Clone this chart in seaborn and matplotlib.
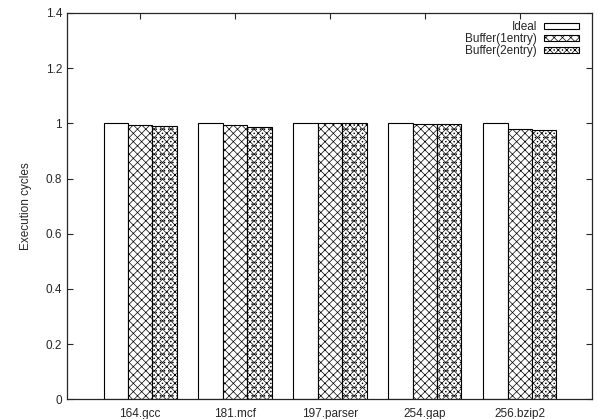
import pandas as pd
import numpy as np
import matplotlib
matplotlib.use("Agg")
import matplotlib.pyplot as plt
import seaborn as sns

benchmarks = ["164.gcc", "181.mcf", "197.parser", "254.gap", "256.bzip2"]
ideal = [1.0, 1.0, 1.0, 1.0, 1.0]
buffer_1entry = [0.995, 0.993, 1.002, 0.998, 0.978]
buffer_2entry = [0.990, 0.988, 1.000, 0.998, 0.975]
series = ["Ideal", "Buffer(1entry)", "Buffer(2entry)"]
hatches = ["", "xxxx", "xxxx...."]

sns.set_style("ticks")
plt.rcParams["font.family"] = ["Liberation Sans", "DejaVu Sans"]
plt.rcParams["hatch.linewidth"] = 0.5

df = pd.DataFrame({
    "bench": benchmarks * 3,
    "series": [s for s in series for _ in benchmarks],
    "value": ideal + buffer_1entry + buffer_2entry,
})

fig = plt.figure(figsize=(5.98, 4.19), dpi=100)
ax = fig.add_axes([0.112, 0.047, 0.878, 0.922])

sns.barplot(data=df, x="bench", y="value", hue="series", ax=ax,
            palette=["white"] * 3, edgecolor="black", linewidth=0.8,
            width=0.77, gap=0, errorbar=None)

# one hatch per series
for cont, h in zip(ax.containers, hatches):
    for p in cont:
        p.set_hatch(h)

ax.set_xlim(-0.77, 4.76)
ax.set_ylim(0, 1.4)
ax.set_yticks(np.arange(0, 1.41, 0.2))
ax.set_yticklabels(["0", "0.2", "0.4", "0.6", "0.8", "1", "1.2", "1.4"])
ax.set_xlabel("")
ax.set_ylabel("Execution cycles", fontsize=8.5, labelpad=10)
ax.tick_params(axis="both", direction="in", labelsize=8.5, width=0.8, length=4,
               top=True, right=True)
ax.tick_params(axis="x", length=4, pad=6)
for s in ax.spines.values():
    s.set_linewidth(0.9)

leg = ax.legend(loc="upper right", frameon=False, fontsize=8.5,
                markerfirst=False, handlelength=2.9, handleheight=0.4,
                labelspacing=0.0, handletextpad=0.6,
                bbox_to_anchor=(0.99, 1.0), borderaxespad=0.3)
for h, hh in zip(leg.legend_handles, hatches):
    h.set_hatch(hh)
    h.set_edgecolor("black")
    h.set_facecolor("white")
    h.set_linewidth(0.8)

fig.savefig("out.png", dpi=100)
